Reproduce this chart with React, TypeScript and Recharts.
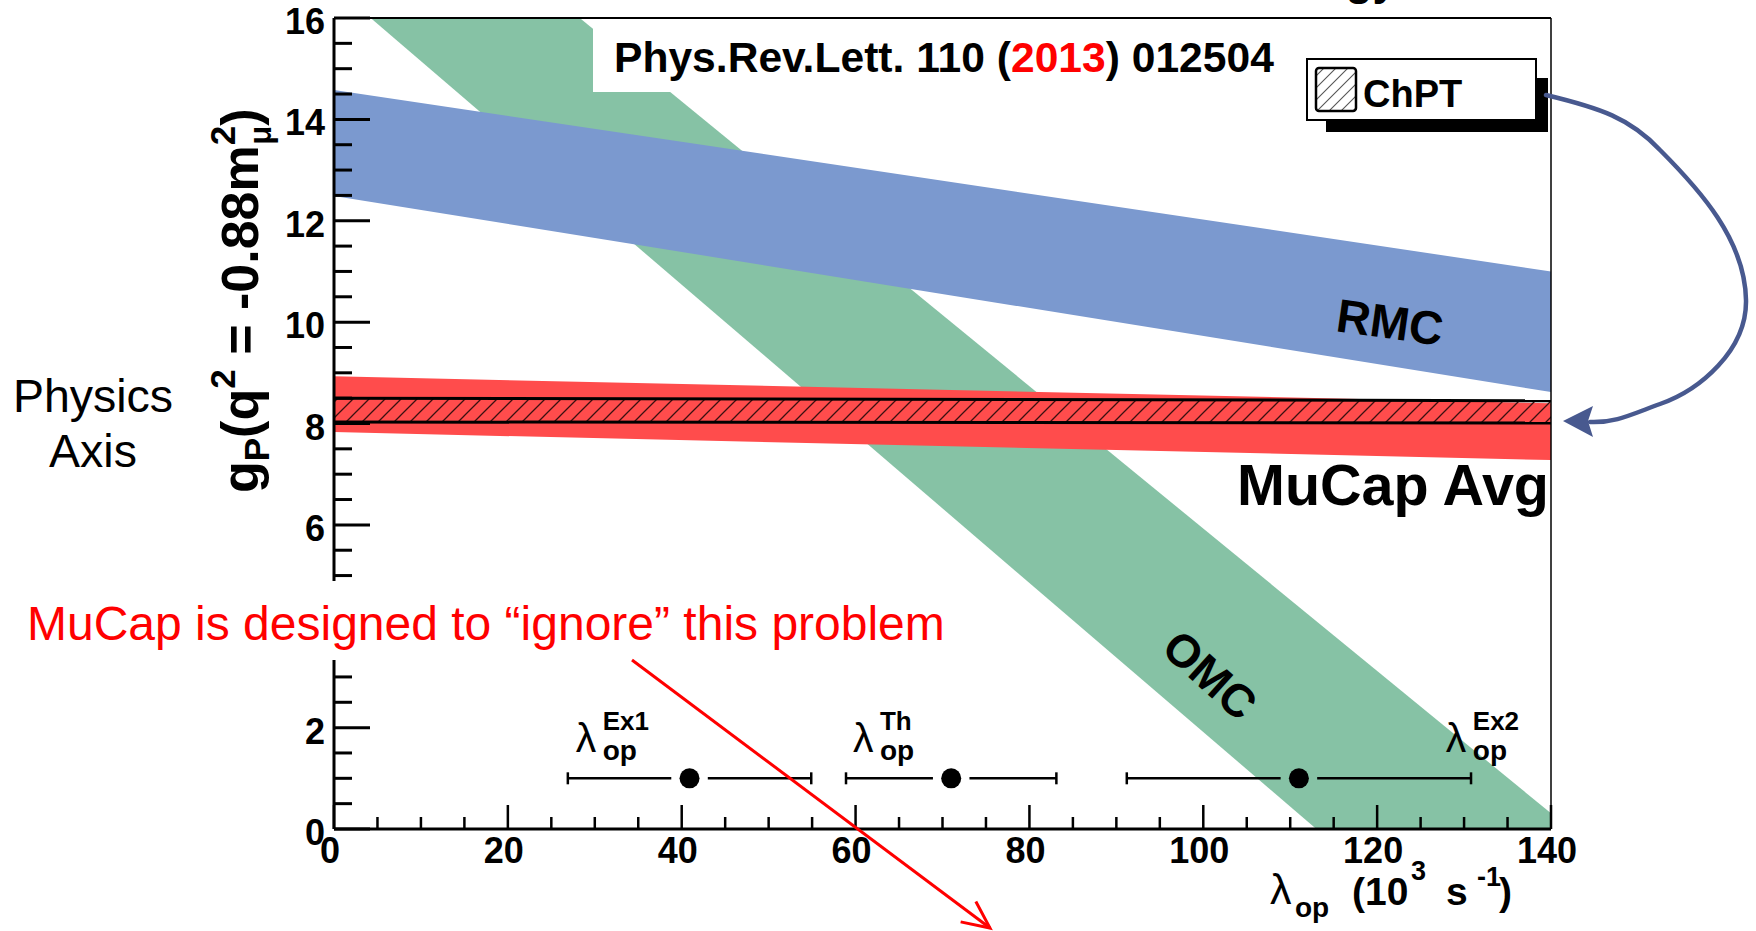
import React from 'react';
import { ComposedChart, Area, XAxis, YAxis, Scatter, ReferenceLine } from 'recharts';

// ---------- data ----------
const bandX = [0, 140];
const rmcLow = [12.49, 8.62];
const rmcHigh = [14.58, 11.0];
const omcLow = [16.62, -3.97];
const omcHigh = [19.97, 0.31];
const mucapLow = [7.83, 7.28];
const mucapHigh = [8.93, 8.4];
const chptLow = [8.03, 8.01];
const chptHigh = [8.5, 8.45];

const lambdaNames = ['Ex1', 'Th', 'Ex2'];
const lambdaCenter = [40.9, 71.0, 111.0];
const lambdaErr = [14.0, 12.1, 19.8];
const lambdaY = [1.0, 1.0, 1.0];
const lambdaLabelX = [27.8, 59.7, 127.9];
const lambdaLabelY = [1.52, 1.52, 1.52];

const xTicks = [0, 5, 10, 15, 20, 25, 30, 35, 40, 45, 50, 55, 60, 65, 70, 75, 80, 85, 90, 95, 100, 105, 110, 115, 120, 125, 130, 135, 140];
// ticks 3.5–4.5 are hidden behind the annotation in the reference
const yTicks = [0, 0.5, 1, 1.5, 2, 2.5, 3, 5, 5.5, 6, 6.5, 7, 7.5, 8, 8.5, 9, 9.5, 10, 10.5, 11, 11.5, 12, 12.5, 13, 13.5, 14, 14.5, 15, 15.5, 16];
const xMajorEvery = 20;
const yMajorEvery = 2;

// error bar gap around marker, in data units
const GAP = 2.1;

const bandRows = bandX.map((x, i) => ({
  x,
  rmc: [rmcLow[i], rmcHigh[i]],
  omc: [omcLow[i], omcHigh[i]],
  mucap: [mucapLow[i], mucapHigh[i]],
  chpt: [chptLow[i], chptHigh[i]],
}));

const dots = lambdaCenter.map((c, i) => ({ x: c, y: lambdaY[i] }));
const labels = lambdaNames.map((n, i) => ({ x: lambdaLabelX[i], y: lambdaLabelY[i], name: n }));
const segments: any[] = [];
lambdaCenter.forEach((c, i) => {
  segments.push([
    { x: c - lambdaErr[i], y: lambdaY[i], cap: true },
    { x: c - GAP, y: lambdaY[i] },
  ]);
  segments.push([
    { x: c + GAP, y: lambdaY[i] },
    { x: c + lambdaErr[i], y: lambdaY[i], cap: true },
  ]);
});

const FONT = "'Liberation Sans', Arial, Helvetica, sans-serif";

const YTick = (props: any) => {
  const { x, y, payload } = props;
  const v = payload.value;
  const major = Math.abs(v % yMajorEvery) < 1e-6;
  return (
    <g>
      <line x1={x} x2={x + (major ? 36 : 18)} y1={y} y2={y} stroke="#000" strokeWidth={3} />
      {major && (
        <text x={x - 9} y={y + 16} textAnchor="end" fontSize={36} fontWeight="bold" fontFamily={FONT} fill="#000">
          {v}
        </text>
      )}
    </g>
  );
};

const XTick = (props: any) => {
  const { x, y, payload } = props;
  const v = payload.value;
  const major = Math.abs(v % xMajorEvery) < 1e-6;
  return (
    <g>
      <line x1={x} x2={x} y1={y} y2={y - (major ? 24 : 12)} stroke="#000" strokeWidth={2.5} />
      {major && (
        <text x={x - 4} y={y + 34} textAnchor="middle" fontSize={36} fontWeight="bold" fontFamily={FONT} fill="#000">
          {v}
        </text>
      )}
    </g>
  );
};

const CapShape = (props: any) => {
  const { cx, cy, payload } = props;
  if (!payload || !payload.cap) return <g />;
  return <line x1={cx} x2={cx} y1={cy - 6} y2={cy + 6} stroke="#000" strokeWidth={2.5} />;
};

const DotShape = (props: any) => {
  const { cx, cy } = props;
  return <circle cx={cx} cy={cy} r={10} fill="#000" />;
};

const LabelShape = (props: any) => {
  const { cx, cy, payload } = props;
  return (
    <g fontFamily={FONT} fill="#000">
      <text x={cx} y={cy} fontSize={41}>λ</text>
      <text x={cx + 27} y={cy - 22} fontSize={26} fontWeight="bold">{payload.name}</text>
      <text x={cx + 27} y={cy + 8} fontSize={28} fontWeight="bold">op</text>
    </g>
  );
};

const Overlay = () => {
  // red arrow head geometry
  const ax1 = 632, ay1 = 660, ax2 = 990, ay2 = 928;
  const ang = Math.atan2(ay2 - ay1, ax2 - ax1);
  const hl = 30, ha = (25 * Math.PI) / 180;
  const h1x = ax2 - hl * Math.cos(ang - ha), h1y = ay2 - hl * Math.sin(ang - ha);
  const h2x = ax2 - hl * Math.cos(ang + ha), h2y = ay2 - hl * Math.sin(ang + ha);
  return (
    <svg width={1756} height={931} style={{ position: 'absolute', left: 0, top: 0, pointerEvents: 'none' }}>
      <defs>
        <pattern id="hatchBand" patternUnits="userSpaceOnUse" width="16" height="16">
          <path d="M-4,4 L4,-4 M0,16 L16,0 M12,20 L20,12" stroke="#3a1010" strokeWidth="1.3" />
        </pattern>
        <pattern id="hatchLegend" patternUnits="userSpaceOnUse" width="12" height="12">
          <path d="M-3,3 L3,-3 M0,12 L12,0 M9,15 L15,9" stroke="#555" strokeWidth="1.1" />
        </pattern>
      </defs>

      {/* cut-off slide title */}
      <text x={1397} y={-5} textAnchor="end" fontSize={44} fontWeight="bold" fontFamily={FONT} fill="#000">gy</text>

      {/* reference box */}
      <rect x={593} y={21} width={695} height={71} fill="#fff" />
      <text x={614} y={72} fontSize={42.6} fontWeight="bold" fontFamily={FONT} fill="#000">
        Phys.Rev.Lett. 110 (<tspan fill="#ff0000">2013</tspan>) 012504
      </text>

      {/* ChPT legend */}
      <rect x={1326} y={78} width={222} height={54} fill="#000" />
      <rect x={1307} y={59} width={229} height={61} fill="#fff" stroke="#000" strokeWidth={2} />
      <rect x={1316} y={68} width={40} height={43} rx={3} fill="#fff" />
      <rect x={1316} y={68} width={40} height={43} rx={3} fill="url(#hatchLegend)" stroke="#000" strokeWidth={2.5} />
      <text x={1363} y={107} fontSize={38} fontWeight="bold" fontFamily={FONT} fill="#000">ChPT</text>

      {/* band labels */}
      <text x={1390} y={322} textAnchor="middle" dominantBaseline="central" fontSize={47} fontWeight="bold" fontFamily={FONT} fill="#000" transform="rotate(8 1390 322)">RMC</text>
      <text x={1210} y={675} textAnchor="middle" dominantBaseline="central" fontSize={46} fontWeight="bold" fontFamily={FONT} fill="#000" transform="rotate(42 1210 675)">OMC</text>
      <text x={1237} y={505} fontSize={57.5} fontWeight="bold" fontFamily={FONT} fill="#000">MuCap Avg</text>

      {/* blue curved arrow */}
      <path
        d="M1546,95 C1600,108 1630,118 1660,150 C1700,190 1745,240 1746,300 C1747,350 1700,390 1660,404 C1630,415 1615,423 1590,422"
        fill="none" stroke="#48598f" strokeWidth={4.5} strokeLinecap="round"
      />
      <path d="M1563,421 L1593,406 L1588,421 L1593,437 Z" fill="#48598f" />

      {/* Physics Axis */}
      <text x={93} y={412} textAnchor="middle" fontSize={46.5} fontFamily={FONT} fill="#000">Physics</text>
      <text x={93} y={467} textAnchor="middle" fontSize={46.5} fontFamily={FONT} fill="#000">Axis</text>

      {/* y axis title */}
      <g transform="translate(258,493) rotate(-90)">
        <text x={0} y={0} fontSize={52} fontWeight="bold" fontFamily={FONT} fill="#000">
          g<tspan fontSize={35} dy={11}>P</tspan>
          <tspan dy={-11}>(q</tspan>
          <tspan fontSize={35} dy={-23}>2</tspan>
          <tspan dy={23}> = -0.88m</tspan>
          <tspan fontSize={35} dy={-23}>2</tspan>
          <tspan fontSize={31} dx={-19} dy={36}>μ</tspan>
          <tspan dy={-13}>)</tspan>
        </text>
      </g>

      {/* x axis title */}
      <g fontFamily={FONT} fill="#000">
        <text x={1270} y={904} fontSize={43}>λ</text>
        <text x={1295} y={917} fontSize={28} fontWeight="bold">op</text>
        <text x={1352} y={905} fontSize={39} fontWeight="bold">(10</text>
        <text x={1411} y={880} fontSize={27} fontWeight="bold">3</text>
        <text x={1446} y={905} fontSize={39} fontWeight="bold">s</text>
        <text x={1477} y={886} fontSize={27} fontWeight="bold">-1</text>
        <text x={1499} y={905} fontSize={39} fontWeight="bold">)</text>
      </g>

      {/* annotation */}
      <rect x={0} y={581} width={962} height={79} fill="#fff" />
      <text x={27} y={640} fontSize={48} fontFamily={FONT} fill="#ff0000">
        MuCap is designed to “ignore” this problem
      </text>
      <line x1={ax1} y1={ay1} x2={ax2} y2={ay2} stroke="#ff0000" strokeWidth={3} />
      <polyline points={`${h1x},${h1y} ${ax2},${ay2} ${h2x},${h2y}`} fill="none" stroke="#ff0000" strokeWidth={3} />
    </svg>
  );
};

export default function App() {
  return (
    <div style={{ position: 'absolute', left: 0, top: 0, width: 1756, height: 931, background: '#fff' }}>
      <div style={{ position: 'absolute', left: 0, top: 0 }}>
        <ComposedChart width={1756} height={931} data={bandRows} margin={{ top: 18, right: 205, bottom: 72, left: 274 }}>
          <XAxis
            type="number"
            dataKey="x"
            domain={[0, 140]}
            ticks={xTicks}
            interval={0}
            allowDataOverflow
            axisLine={false}
            tickLine={false}
            tickSize={0}
            tickMargin={0}
            height={30}
            tick={<XTick />}
            zIndex={0}
          />
          <YAxis
            type="number"
            domain={[0, 16]}
            ticks={yTicks}
            interval={0}
            allowDataOverflow
            axisLine={false}
            tickLine={false}
            tickSize={0}
            tickMargin={0}
            width={60}
            tick={<YTick />}
            zIndex={0}
          />
          <Area type="linear" dataKey="omc" stroke="none" fill="#86c2a5" fillOpacity={1} dot={false} activeDot={false} isAnimationActive={false} />
          <Area type="linear" dataKey="rmc" stroke="none" fill="#7b99cf" fillOpacity={1} dot={false} activeDot={false} isAnimationActive={false} />
          <Area type="linear" dataKey="mucap" stroke="none" fill="#ff4c4c" fillOpacity={1} dot={false} activeDot={false} isAnimationActive={false} />
          <Area type="linear" dataKey="chpt" stroke="#000" strokeWidth={3} fill="url(#hatchBand)" fillOpacity={1} dot={false} activeDot={false} isAnimationActive={false} />
          <ReferenceLine x={0} stroke="#000" strokeWidth={3} zIndex={700} />
          <ReferenceLine y={0} stroke="#000" strokeWidth={3} zIndex={700} />
          <ReferenceLine y={16} stroke="#000" strokeWidth={2} zIndex={700} />
          <ReferenceLine x={140} stroke="#000" strokeWidth={1.5} zIndex={700} />
          {segments.map((seg, i) => (
            <Scatter
              key={'seg' + i}
              data={seg}
              dataKey="y"
              line={{ stroke: '#000', strokeWidth: 2.5 }}
              shape={<CapShape />}
              isAnimationActive={false}
              zIndex={800}
            />
          ))}
          <Scatter data={dots} dataKey="y" shape={<DotShape />} isAnimationActive={false} zIndex={800} />
          <Scatter data={labels} dataKey="y" shape={<LabelShape />} isAnimationActive={false} zIndex={800} />
        </ComposedChart>
      </div>
      <Overlay />
    </div>
  );
}
